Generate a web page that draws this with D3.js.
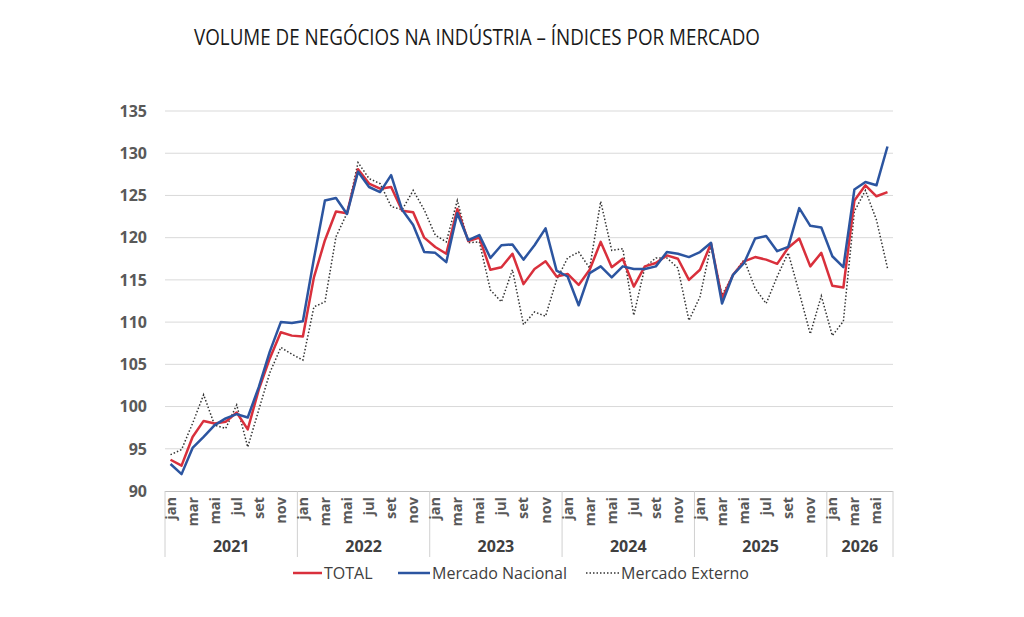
<!DOCTYPE html>
<html><head><meta charset="utf-8">
<script src="https://cdn.jsdelivr.net/npm/d3@7"></script>
<style>body{margin:0;background:#fff}svg{display:block}</style>
</head><body><svg id="c" width="1024" height="617"></svg>
<script>
const monthNames = ["jan","fev","mar","abr","mai","jun","jul","ago","set","out","nov","dez"];
const years = ["2021","2022","2023","2024","2025","2026"];
const monthsPerYear = [12,12,12,12,12,6];
const yTicks = [90,95,100,105,110,115,120,125,130,135];
const total = [93.7,93.0,96.4,98.3,98.0,98.2,99.3,97.3,102.0,105.7,108.8,108.4,
  108.3,115.3,119.7,123.1,122.9,128.1,126.4,125.8,126.0,123.2,123.0,120.0,
  118.9,118.1,123.4,119.6,120.0,116.2,116.5,118.1,114.5,116.3,117.2,115.4,
  115.7,114.4,116.2,119.5,116.5,117.5,114.2,116.6,117.0,117.9,117.5,115.0,
  116.2,119.3,112.8,115.6,117.2,117.7,117.4,116.9,118.8,119.9,116.6,118.2,
  114.3,114.1,124.4,126.2,124.9,125.4];
const nacional = [93.2,92.0,95.1,96.4,97.8,98.6,99.1,98.7,102.3,106.5,110.0,109.9,
  110.1,117.5,124.4,124.7,122.8,127.8,126.0,125.4,127.4,123.3,121.5,118.3,
  118.2,117.1,122.9,119.7,120.3,117.6,119.1,119.2,117.4,119.1,121.1,116.1,
  115.4,112.0,115.8,116.6,115.3,116.6,116.3,116.3,116.6,118.3,118.1,117.7,
  118.3,119.4,112.2,115.6,117.0,119.9,120.2,118.4,118.9,123.5,121.4,121.2,
  117.8,116.5,125.7,126.6,126.2,130.8];
const externo = [94.3,94.9,98.0,101.4,97.8,97.4,100.2,95.2,99.6,104.0,107.0,106.2,
  105.5,111.8,112.4,120.1,122.9,128.9,127.0,126.4,123.7,123.3,125.6,123.3,
  120.3,119.5,124.4,119.4,119.5,113.8,112.4,116.2,109.7,111.2,110.7,115.0,
  117.6,118.3,116.4,124.3,118.5,118.7,110.8,116.5,117.6,117.6,116.4,110.2,
  113.0,119.1,113.2,115.6,117.4,114.0,112.2,115.4,118.2,113.5,108.6,113.1,
  108.4,110.1,123.1,125.6,122.1,116.4];
const seriesNames = ["TOTAL","Mercado Nacional","Mercado Externo"];

// categories
const cats = [];
years.forEach((y,yi)=>{ for(let m=0;m<monthsPerYear[yi];m++) cats.push({key:y+"-"+m, year:y, m}); });

const svg = d3.select("#c");
const L=165, R=893, T=111, B=491;
const x = d3.scaleBand().domain(cats.map(d=>d.key)).range([L,R]).padding(0);
const y = d3.scaleLinear().domain([90,135]).range([B,T]);
const cx = i => x(cats[i].key) + x.bandwidth()/2;

const font = "'Open Sans', 'DejaVu Sans', sans-serif";

// title
svg.append("text").attr("x",194).attr("y",44.5).attr("font-family",font)
  .attr("font-size",21).attr("fill","#1a1a1a")
  .attr("textLength",566).attr("lengthAdjust","spacingAndGlyphs")
  .text("VOLUME DE NEGÓCIOS NA INDÚSTRIA – ÍNDICES POR MERCADO");

// gridlines
svg.append("g").selectAll("line").data(yTicks.filter(t=>t>90)).join("line")
  .attr("x1",L).attr("x2",R).attr("y1",d=>y(d)).attr("y2",d=>y(d))
  .attr("stroke","#d9d9d9").attr("stroke-width",1);

// y labels
svg.append("g").selectAll("text").data(yTicks).join("text")
  .attr("x",147).attr("y",d=>y(d)).attr("dy","0.36em").attr("text-anchor","end")
  .attr("font-family",font).attr("font-weight","bold").attr("font-size",16).attr("fill","#595959")
  .text(d=>d);

// x axis line
svg.append("line").attr("x1",L).attr("x2",R).attr("y1",B+0.5).attr("y2",B+0.5).attr("stroke","#bfbfbf");

// year separators
const bounds = [0]; monthsPerYear.reduce((a,c)=>{bounds.push(a+c); return a+c;},0);
svg.append("g").selectAll("line").data(bounds).join("line")
  .attr("x1",d=> d<cats.length ? x(cats[d].key) : R).attr("x2",d=> d<cats.length ? x(cats[d].key) : R)
  .attr("y1",B).attr("y2",557).attr("stroke","#d0d0d0");

// month labels
svg.append("g").selectAll("text").data(cats.map((d,i)=>({d,i})).filter(o=>o.d.m%2===0)).join("text")
  .attr("transform",o=>`translate(${cx(o.i)+5},497) rotate(-90)`)
  .attr("text-anchor","end").attr("font-family",font).attr("font-weight","bold")
  .attr("font-size",14.5).attr("fill","#595959").text(o=>monthNames[o.d.m]);

// year labels
svg.append("g").selectAll("text").data(years).join("text")
  .attr("x",(d,i)=>{ const a=x(cats[bounds[i]].key); const b= bounds[i+1]<cats.length? x(cats[bounds[i+1]].key):R; return (a+b)/2; })
  .attr("y",552).attr("text-anchor","middle").attr("font-family",font).attr("font-weight","bold")
  .attr("font-size",16).attr("fill","#404040").text(d=>d);

// lines
const line = d3.line().x((d,i)=>cx(i)).y(d=>y(d));
svg.append("path").datum(externo).attr("d",line).attr("fill","none")
  .attr("stroke","#333").attr("stroke-width",1.5).attr("stroke-dasharray","1.5,2");
svg.append("path").datum(total).attr("d",line).attr("fill","none")
  .attr("stroke","#d9303c").attr("stroke-width",2.5).attr("stroke-linejoin","round");
svg.append("path").datum(nacional).attr("d",line).attr("fill","none")
  .attr("stroke","#2c55a0").attr("stroke-width",2.5).attr("stroke-linejoin","round");

// legend
const leg = [
  {name:seriesNames[0], x1:293, x2:322, color:"#d9303c", w:2.5, dash:null},
  {name:seriesNames[1], x1:398, x2:430, color:"#2c55a0", w:2.5, dash:null},
  {name:seriesNames[2], x1:586, x2:619, color:"#333", w:1.5, dash:"1.5,2"}
];
const lg = svg.append("g");
leg.forEach(l=>{
  lg.append("line").attr("x1",l.x1).attr("x2",l.x2).attr("y1",573).attr("y2",573)
    .attr("stroke",l.color).attr("stroke-width",l.w).attr("stroke-dasharray",l.dash);
  lg.append("text").attr("x",l.x2+2).attr("y",578.5).attr("font-family",font)
    .attr("font-size",16).attr("fill","#404040").text(l.name);
});
</script></body></html>
